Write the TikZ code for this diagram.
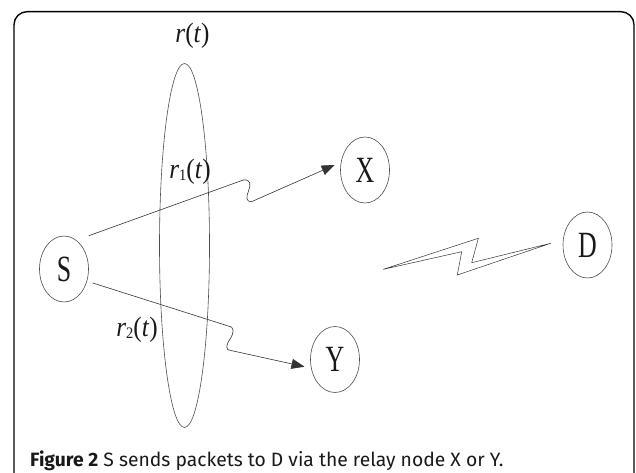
\documentclass[tikz,border=0pt]{standalone}
\usepackage{fontspec}
\usepackage{tikz}
\usetikzlibrary{shapes,arrows.meta,positioning,calc}
\setsansfont{Fira Sans}
\newfontfamily\peerfont[FakeStretch=0.7]{Liberation Serif}
\newfontfamily\ratefont[FakeStretch=0.9]{Liberation Serif}

\begin{document}
\begin{tikzpicture}[x=1pt, y=1pt,
        every node/.style={text=black!90},
        peer/.style={ellipse, draw=black!70, line width=0.6pt, minimum width=49pt, minimum height=66pt, inner sep=0pt, font=\peerfont\fontsize{37}{37}\selectfont},
        group/.style={ellipse, draw=black!70, line width=0.6pt, minimum width=50pt, minimum height=364pt, inner sep=0pt},
        rate/.style={inner sep=0pt, font=\ratefont\fontsize{28}{28}\selectfont},
        link/.style={-{Triangle[length=13pt, width=10pt]}, draw=black!80, line width=0.6pt},
        bolt/.style={draw=black!80, line width=0.5pt, line join=round},
    ]
        \useasboundingbox (0,0) rectangle (636,472);
        \clip (0,0) rectangle (636,472);
        \draw[line width=1.4pt, rounded corners=13pt] (14,-20) rectangle (634,460.3);

        % nodes
        \node[peer] (S) at (64,203) {S};
        \node[peer] (X) at (365,302) {X};
        \node[peer] (Y) at (335,112.5) {Y};
        \node[peer] (D) at (587.5,227) {D};
        \node[group] (relays) at (184.5,226.5) {};

        \node[rate] (rall) at (192.5,436) {\textit{r}(\textit{t})};
        \node[rate] (rone) at (190,300) {\textit{r}\raisebox{-0.05em}{\fontsize{16}{16}\selectfont 1}(\textit{t})};
        \node[rate] (rtwo) at (137,142) {\textit{r}\raisebox{-0.05em}{\fontsize{16}{16}\selectfont 2}(\textit{t})};

        % wiggle points
        \coordinate (sx1) at (243.3,292);
        \coordinate (sx2) at (251.5,270.3);
        \coordinate (sy1) at (228.3,146);
        \coordinate (sy2) at (231,121.5);

        \draw[link] (S.east |- S.north) -- (sx1)
            .. controls +(7.7,1) and +(2.5,6) .. +(5.2,-11)
            .. controls +(-2.5,-6) and +(-5.5,-0.3) .. (sx2) -- ([shift={(-5.5,5)}]X.west);
        \draw[link] ([shift={(4,-14)}]S.east) -- (sy1)
            .. controls +(6.7,-1) and +(4,6) .. +(1.7,-13)
            .. controls +(-4,-6) and +(-6,0) .. (sy2) -- ([shift={(-5.7,-7.2)}]Y.west);

        % link to D
        \draw[bolt] (383.3,202.7) -- (478.3,233.7) -- (471.7,209.3) -- ([shift={(-12,1.7)}]D.west)
            -- (457.3,197) -- (461.7,220.3) -- cycle;

        \node[anchor=base west, inner sep=0pt, font=\sffamily\fontsize{19.3}{19.3}\selectfont] (caption) at (30,6)
            {\textbf{Figure 2} S sends packets to D via the relay node X or Y.};
    \end{tikzpicture}
\end{document}
